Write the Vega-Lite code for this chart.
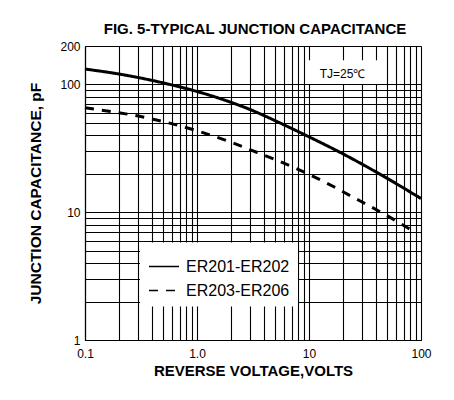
{
  "$schema": "https://vega.github.io/schema/vega-lite/v6.json",
  "width": 336,
  "height": 294,
  "autosize": "none",
  "padding": {"left": 85, "top": 46, "right": 33, "bottom": 60},
  "background": "white",
  "title": {"text": "FIG. 5-TYPICAL JUNCTION CAPACITANCE", "font": "Liberation Sans", "fontSize": 15, "fontWeight": "bold", "color": "black", "anchor": "middle", "offset": 3, "dx": 2},
  "config": {
    "view": {"stroke": null},
    "axis": {"gridColor": "black", "gridOpacity": 1, "gridWidth": 1.1, "domainColor": "black", "domainWidth": 1.2, "ticks": false, "labelFont": "Liberation Sans", "labelFontSize": 12, "labelColor": "black", "titleFont": "Liberation Sans", "titleFontWeight": "bold", "titleColor": "black", "labelOverlap": false, "labelBound": false, "labelFlush": false}
  },
  "datasets": {
    "curves": [
      {"series": "ER201-ER202", "V": 0.1, "C": 132},
      {"series": "ER201-ER202", "V": 0.2, "C": 120.8},
      {"series": "ER201-ER202", "V": 0.3, "C": 113.2},
      {"series": "ER201-ER202", "V": 0.5, "C": 102.8},
      {"series": "ER201-ER202", "V": 0.7, "C": 95.7},
      {"series": "ER201-ER202", "V": 1, "C": 88.1},
      {"series": "ER201-ER202", "V": 2, "C": 72.6},
      {"series": "ER201-ER202", "V": 3, "C": 63.5},
      {"series": "ER201-ER202", "V": 5, "C": 52},
      {"series": "ER201-ER202", "V": 10, "C": 38.9},
      {"series": "ER201-ER202", "V": 20, "C": 28.7},
      {"series": "ER201-ER202", "V": 30, "C": 23.7},
      {"series": "ER201-ER202", "V": 50, "C": 18.4},
      {"series": "ER201-ER202", "V": 100, "C": 12.8},
      {"series": "ER203-ER206", "V": 0.1, "C": 65.7},
      {"series": "ER203-ER206", "V": 0.2, "C": 60.1},
      {"series": "ER203-ER206", "V": 0.3, "C": 56.6},
      {"series": "ER203-ER206", "V": 0.5, "C": 51.2},
      {"series": "ER203-ER206", "V": 1, "C": 43.4},
      {"series": "ER203-ER206", "V": 2, "C": 35.4},
      {"series": "ER203-ER206", "V": 3, "C": 30.8},
      {"series": "ER203-ER206", "V": 5, "C": 25.8},
      {"series": "ER203-ER206", "V": 7.5, "C": 22.2},
      {"series": "ER203-ER206", "V": 11, "C": 19},
      {"series": "ER203-ER206", "V": 16.5, "C": 15.9},
      {"series": "ER203-ER206", "V": 24, "C": 13.3},
      {"series": "ER203-ER206", "V": 36, "C": 11},
      {"series": "ER203-ER206", "V": 52, "C": 9.2},
      {"series": "ER203-ER206", "V": 77, "C": 7.5},
      {"series": "ER203-ER206", "V": 85, "C": 7.15}
    ],
    "note": [
      {"V": 9.8, "V2": 43, "C": 101, "C2": 155, "label": "TJ=25℃", "VT": 19.9, "CT": 121}
    ]
  },
  "encoding": {
    "x": {
      "field": "V", "type": "quantitative",
      "scale": {"type": "log", "domain": [0.1, 100], "nice": false},
      "axis": {
        "title": "REVERSE VOLTAGE,VOLTS", "titleFontSize": 15, "titlePadding": 4, "labelPadding": 8,
        "grid": true,
        "values": [0.1, 0.2, 0.3, 0.4, 0.5, 0.6, 0.7, 0.8, 0.9, 1, 2, 3, 4, 5, 6, 7, 8, 9, 10, 20, 30, 40, 50, 60, 70, 80, 90, 100],
        "labelExpr": "datum.value == 0.1 ? '0.1' : datum.value == 1 ? '1.0' : datum.value == 10 ? '10' : datum.value == 100 ? '100' : ''"
      }
    },
    "y": {
      "field": "C", "type": "quantitative",
      "scale": {"type": "log", "domain": [1, 200], "nice": false},
      "axis": {
        "title": "JUNCTION CAPACITANCE, pF", "titleFontSize": 15.5, "titlePadding": 16, "labelPadding": 5,
        "grid": true,
        "values": [1, 2, 3, 4, 5, 6, 7, 8, 9, 10, 20, 30, 40, 50, 60, 70, 80, 90, 100, 200],
        "labelExpr": "indexof([1, 10, 100, 200], datum.value) >= 0 ? '' + datum.value : ''"
      }
    }
  },
  "layer": [
    {
      "data": {"name": "curves"},
      "mark": {"type": "line", "strokeWidth": 3, "color": "black", "interpolate": "monotone"},
      "encoding": {
        "strokeDash": {
          "field": "series", "type": "nominal",
          "scale": {"domain": ["ER201-ER202", "ER203-ER206"], "range": [[1, 0], [9, 8]]},
          "legend": {
            "title": null, "orient": "none", "legendX": 55, "legendY": 196.5,
            "fillColor": "white", "padding": 8, "symbolType": "stroke", "symbolSize": 900,
            "symbolStrokeWidth": 1.5, "symbolStrokeColor": "black", "labelFont": "Liberation Sans",
            "labelFontSize": 16, "labelColor": "black", "labelOffset": 6, "rowPadding": -3,
            "encode": {"symbols": {"update": {"strokeDash": {"signal": "datum.value == 'ER203-ER206' ? [6, 4] : [1, 0]"}}}}
          }
        }
      }
    },
    {
      "data": {"name": "note"},
      "mark": {"type": "rect", "fill": "white", "stroke": null},
      "encoding": {
        "x2": {"field": "V2"},
        "y2": {"field": "C2"}
      }
    },
    {
      "data": {"name": "note"},
      "mark": {"type": "text", "font": "Liberation Sans", "fontSize": 12, "color": "black"},
      "encoding": {
        "x": {"field": "VT", "type": "quantitative"},
        "y": {"field": "CT", "type": "quantitative"},
        "text": {"field": "label"}
      }
    }
  ]
}
